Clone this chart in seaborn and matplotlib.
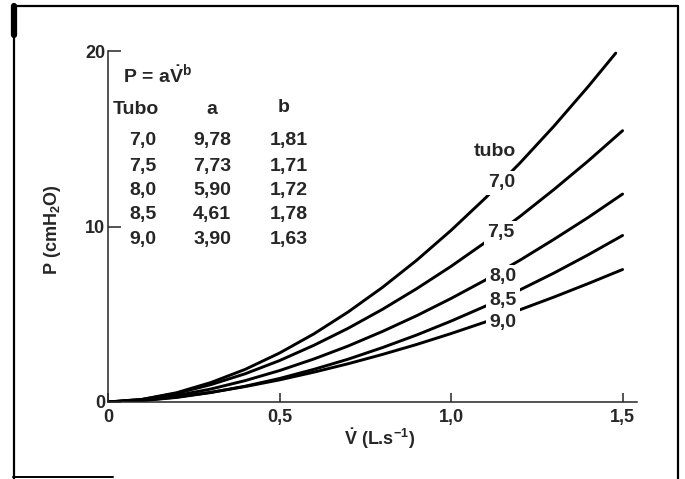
import matplotlib
matplotlib.use('Agg')
from matplotlib import pyplot as plt
from matplotlib.lines import Line2D
import pandas as pd
import seaborn as sns

# table printed in the top left corner
tubes = ['7,0', '7,5', '8,0', '8,5', '9,0']
coef_a = ['9,78', '7,73', '5,90', '4,61', '3,90']
coef_b = ['1,81', '1,71', '1,72', '1,78', '1,63']

# flow (L/s) and pressure (cmH2O)
flow = [0.0, 0.1, 0.2, 0.3, 0.4, 0.5, 0.6, 0.7, 0.8, 0.9, 1.0, 1.1, 1.2, 1.3, 1.4, 1.5]
flow_70 = [0.0, 0.1, 0.2, 0.3, 0.4, 0.5, 0.6, 0.7, 0.8, 0.9, 1.0, 1.1, 1.2, 1.3, 1.4, 1.48]
p_70 = [0, 0.15, 0.53, 1.11, 1.86, 2.79, 3.88, 5.13, 6.53, 8.08, 9.78, 11.62, 13.60, 15.72, 17.98, 19.88]
p_75 = [0, 0.15, 0.49, 0.99, 1.61, 2.36, 3.23, 4.20, 5.28, 6.46, 7.73, 9.10, 10.56, 12.11, 13.74, 15.46]
p_80 = [0, 0.11, 0.37, 0.74, 1.22, 1.79, 2.45, 3.19, 4.02, 4.92, 5.90, 6.95, 8.07, 9.27, 10.52, 11.85]
p_85 = [0, 0.08, 0.26, 0.54, 0.90, 1.34, 1.86, 2.44, 3.10, 3.82, 4.61, 5.46, 6.38, 7.35, 8.39, 9.49]
p_90 = [0, 0.09, 0.28, 0.55, 0.88, 1.26, 1.70, 2.18, 2.71, 3.28, 3.90, 4.56, 5.25, 5.98, 6.75, 7.55]

curves = {'7,0': (flow_70, p_70), '7,5': (flow, p_75), '8,0': (flow, p_80),
          '8,5': (flow, p_85), '9,0': (flow, p_90)}
rows = []
for t, (xs, ys) in curves.items():
    for x, y in zip(xs, ys):
        rows.append({'tubo': t, 'flow': x, 'pressure': y})
df = pd.DataFrame(rows)

sns.set_style('ticks')
plt.rcParams['font.family'] = ['Liberation Sans', 'DejaVu Sans']
plt.rcParams['font.weight'] = 'bold'
plt.rcParams['axes.labelweight'] = 'bold'
plt.rcParams['mathtext.fontset'] = 'custom'
plt.rcParams['mathtext.rm'] = 'Liberation Sans:bold'
plt.rcParams['mathtext.it'] = 'Liberation Sans:bold'
plt.rcParams['mathtext.bf'] = 'Liberation Sans:bold'
plt.rcParams['mathtext.default'] = 'bf'

W, H = 685, 479
fig = plt.figure(figsize=(6.85, 4.79), dpi=100)
ax = fig.add_axes([108 / W, 1 - 402 / H, 529 / W, 351 / H])

sns.lineplot(data=df, x='flow', y='pressure', hue='tubo', palette=['black'] * 5,
             legend=False, linewidth=2.1, sort=False, estimator=None, ax=ax)

ax.set_xlim(0, 1.542)
ax.set_ylim(0, 20)
ax.set_xticks([0, 0.5, 1.0, 1.5])
ax.set_xticklabels(['0', '0,5', '1,0', '1,5'])
ax.set_yticks([0, 10, 20])
ax.set_yticklabels(['0', '10', '20'])
ax.tick_params(axis='y', direction='in', length=9.5, width=1.1, pad=2, labelsize=13)
ax.tick_params(axis='x', direction='in', length=6.5, width=1.1, pad=5, labelsize=13)
sns.despine(ax=ax)
for s in ['left', 'bottom']:
    ax.spines[s].set_linewidth(1.1)

ax.set_xlabel(r'$\dot{V}$ (L.s$^{-1}$)', fontsize=13, fontweight='bold')
ax.set_ylabel(r'P (cmH$_{2}$O)', fontsize=13, fontweight='bold')
ax.xaxis.set_label_coords((380 - 108) / 529, (402 - 426) / 351)
ax.yaxis.set_label_coords((63 - 108) / 529, (402 - 230) / 351)


def pos(px, py):
    return (px - 108) / 529, (402 - py) / 351


# formula and table
ax.text(*pos(123, 75), r'P = a$\dot{V}^{b}$', transform=ax.transAxes,
        fontsize=14, ha='left', va='center')
ax.text(*pos(136, 110), 'Tubo', transform=ax.transAxes, fontsize=14, ha='center', va='center')
ax.text(*pos(212, 110), 'a', transform=ax.transAxes, fontsize=14, ha='center', va='center')
ax.text(*pos(284, 108), 'b', transform=ax.transAxes, fontsize=14, ha='center', va='center')
row_y = [141, 167, 191, 215, 240]
for t, a, b, y in zip(tubes, coef_a, coef_b, row_y):
    ax.text(*pos(143, y), t, transform=ax.transAxes, fontsize=14, ha='center', va='center')
    ax.text(*pos(212, y), a, transform=ax.transAxes, fontsize=14, ha='center', va='center')
    ax.text(*pos(289, y), b, transform=ax.transAxes, fontsize=14, ha='center', va='center')

# labels on the curves
ax.text(*pos(495, 152), 'tubo', transform=ax.transAxes, fontsize=14, ha='center', va='center')
label_pos = [(502, 183), (501, 233), (503, 277), (503, 301), (503, 322)]
for t, (px, py) in zip(tubes, label_pos):
    ax.text(*pos(px, py), t, transform=ax.transAxes, fontsize=14, ha='center', va='center',
            zorder=5, bbox=dict(facecolor='white', edgecolor='none', pad=2.5))

# scanned frame around the figure
def frame(xs, ys, lw):
    fig.add_artist(Line2D([x / W for x in xs], [1 - y / H for y in ys],
                          transform=fig.transFigure, color='black', linewidth=lw))

frame([13, 678], [6, 6], 1.6)
frame([14, 14], [6, 479], 1.6)
frame([678, 678], [6, 479], 1.6)
frame([13, 113], [477, 477], 1.4)
frame([13.5, 13.5], [6, 35], 4.5)

fig.savefig('out.png', dpi=100)
